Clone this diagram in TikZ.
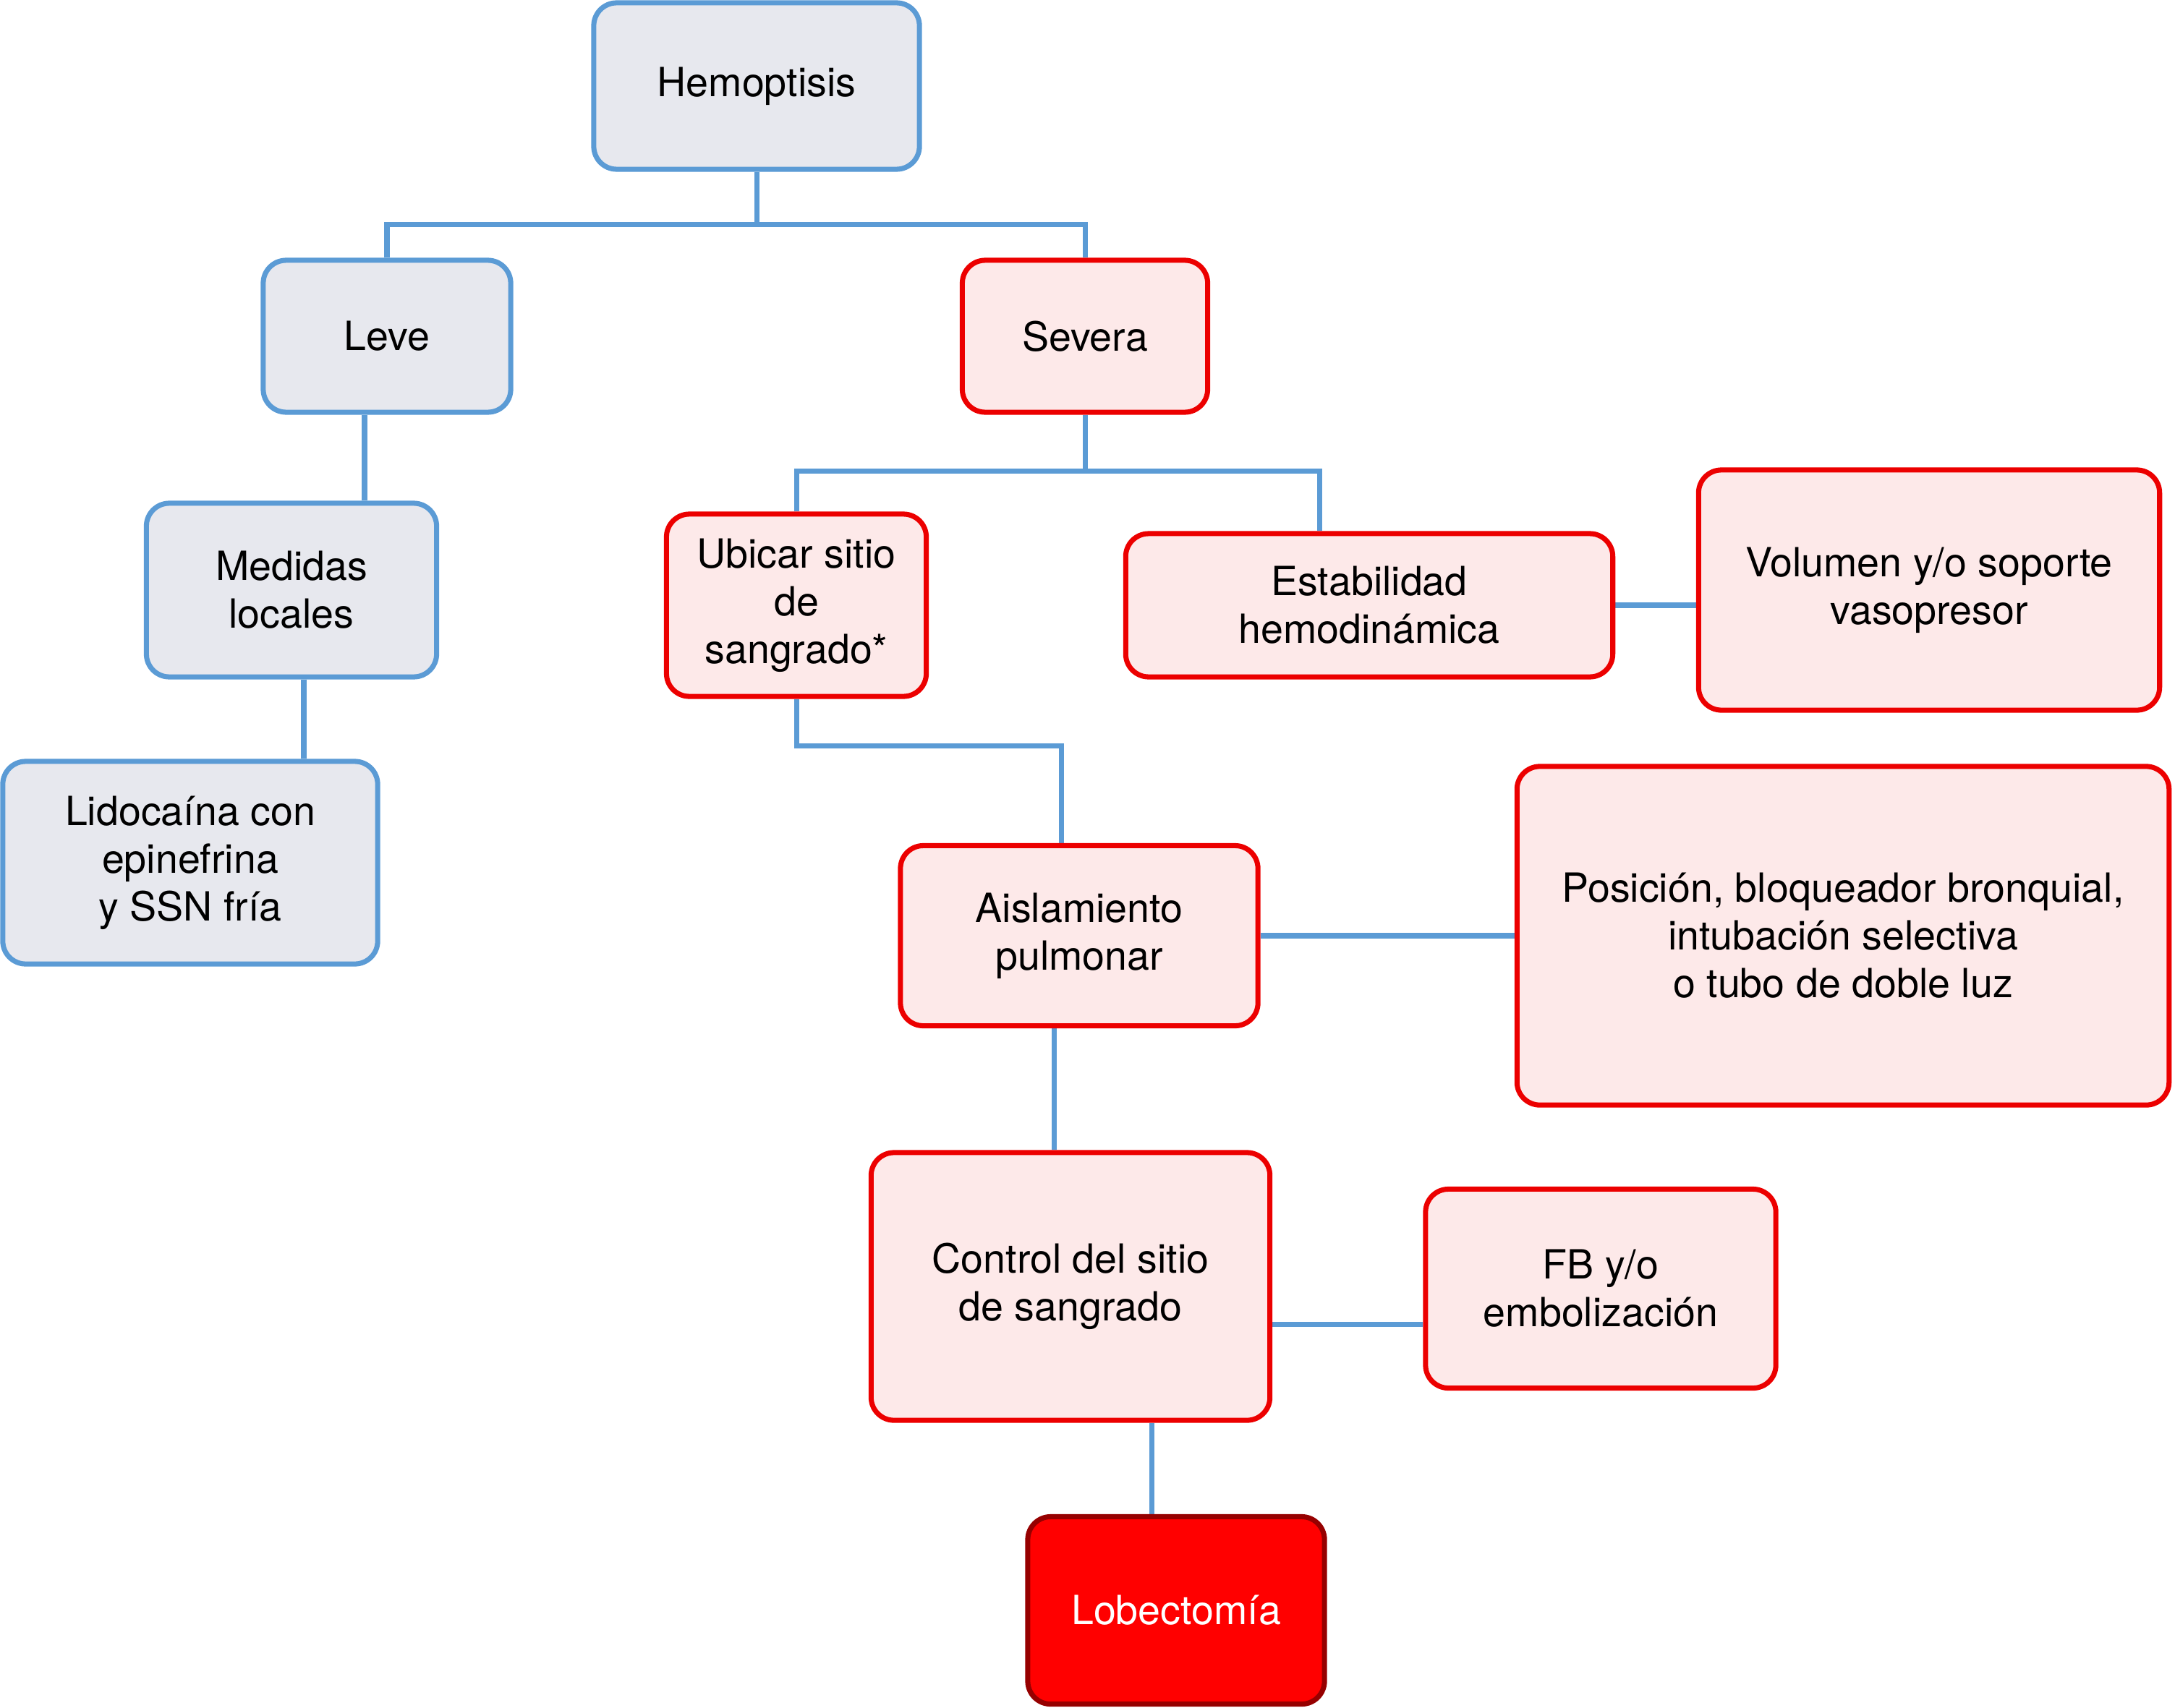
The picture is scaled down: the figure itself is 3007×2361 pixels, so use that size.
\documentclass[tikz,border=0pt]{standalone}
\usepackage{fontspec}
\setmainfont{TeX Gyre Heros}
\usetikzlibrary{calc,backgrounds}

\definecolor{boxblue}{RGB}{91,155,213}
\definecolor{boxgray}{RGB}{231,232,238}
\definecolor{boxred}{RGB}{236,0,0}
\definecolor{boxpink}{RGB}{253,233,233}
\definecolor{darkred}{RGB}{150,0,0}

\tikzset{
    box/.style={draw, rounded corners=9pt, line width=2pt, align=center,
        inner sep=0pt, font=\fontsize{15.8}{18.8}\selectfont},
    mild/.style={box, draw=boxblue, fill=boxgray},
    severe/.style={box, draw=boxred, fill=boxpink},
    surgery/.style={box, draw=darkred, fill=red, text=white},
    conn/.style={draw=boxblue, line width=2pt},
}

\begin{document}
\begin{tikzpicture}[x=0.01cm, y=-0.01cm]
        \useasboundingbox (0, 0) rectangle (3007, 2361);
        \node [mild, minimum width=4.5cm, minimum height=2.3cm] (hemo) at (1046, 119) {Hemoptisis};
        \node [mild, minimum width=3.42cm, minimum height=2.1cm] (leve) at (535, 465) {Leve};
        \node [severe, minimum width=3.39cm, minimum height=2.1cm] (severa) at (1500, 465) {Severa};
        \node [mild, minimum width=4.01cm, minimum height=2.4cm] (medidas) at (403, 816) {Medidas\\locales};
        \node [mild, minimum width=5.18cm, minimum height=2.8cm] (lido) at (263, 1193) {Lidocaína con\\epinefrina\\y SSN fría};
        \node [severe, minimum width=3.59cm, minimum height=2.52cm] (ubicar) at (1101, 837) {Ubicar sitio\\de\\sangrado*};
        \node [severe, minimum width=6.73cm, minimum height=1.98cm] (estab) at (1893, 837) {Estabilidad\\hemodinámica};
        \node [severe, minimum width=6.37cm, minimum height=3.32cm] (volumen) at (2667, 816) {Volumen y/o soporte\\vasopresor};
        \node [severe, minimum width=4.94cm, minimum height=2.49cm] (aisl) at (1492, 1294) {Aislamiento\\pulmonar};
        \node [severe, minimum width=9.01cm, minimum height=4.68cm] (posic) at (2548, 1294) {Posición, bloqueador bronquial,\\intubación selectiva\\o tubo de doble luz};
        \node [severe, minimum width=5.51cm, minimum height=3.7cm] (control) at (1480, 1779) {Control del sitio\\de sangrado};
        \node [severe, minimum width=4.84cm, minimum height=2.75cm] (fb) at (2213, 1782) {FB y/o\\embolización};
        \node [surgery, minimum width=4.1cm, minimum height=2.59cm] (lobec) at (1626, 2227) {Lobectomía};

        \begin{scope}[on background layer]
            \coordinate (split1) at ($(hemo.south) + (0, 73)$);
            \draw [conn] (hemo.south) -- (split1);
            \draw [conn] (leve.north) |- (split1) -| (severa.north);
            \draw [conn] ($(leve.south) + (-31, 0)$) coordinate (l1) -- (l1 |- medidas.north);
            \draw [conn] ($(medidas.south) + (17, 0)$) coordinate (m1) -- (m1 |- lido.north);
            \coordinate (split2) at ($(severa.south) + (0, 78)$);
            \draw [conn] (severa.south) -- (split2);
            \draw [conn] (ubicar.north) |- (split2) -| ($(estab.north) + (-69, 0)$);
            \draw [conn] (estab.east) -- (volumen.west |- estab.east);
            \draw [conn] (ubicar.south) -- ++(0, 65) -| ($(aisl.north) + (-25, 0)$);
            \draw [conn] (aisl.east) -- (posic.west);
            \draw [conn] ($(aisl.south) + (-35, 0)$) coordinate (a1) -- (a1 |- control.north);
            \draw [conn] ($(control.east) + (0, 52)$) coordinate (c1) -- (c1 -| fb.west);
            \draw [conn] ($(control.south) + (112, 0)$) coordinate (c2) -- (c2 |- lobec.north);
        \end{scope}
    \end{tikzpicture}
\end{document}
